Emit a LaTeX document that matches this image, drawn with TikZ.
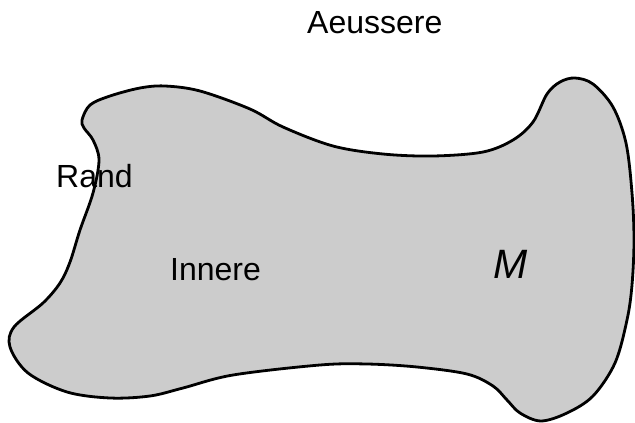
\documentclass[tikz,border=0pt]{standalone}
\usepackage{fontspec}
\setmainfont{Liberation Sans}
\begin{document}
\begin{tikzpicture}[x=1pt,y=-1pt,
  region/.style={draw=black,line width=2.8pt,fill=regiongray,line join=round},
  lbl/.style={inner sep=0pt,anchor=base west,font=\fontsize{32}{38}\selectfont}]
\definecolor{regiongray}{RGB}{204,204,204}
\useasboundingbox (0,0) rectangle (635,423);
% the set M as a closed smooth outline
\draw[region] plot[smooth cycle,tension=0.55] coordinates {
  (82,120) (90,105) (110,96) (140,88) (165,86) (200,91) (250,109) (283,127)
  (333,146) (383,154) (433,156) (483,152) (513,140) (533,122) (547,94)
  (560,82) (575,78) (593,84) (613,107) (626,143) (632,193) (634,240)
  (632,285) (627,320) (615,363) (593,396) (567,413) (541,421) (520,413)
  (507,400) (493,386) (467,374) (417,367) (367,364) (320,365) (233,375)
  (183,388) (150,396) (110,398) (67,392) (28,373) (10,347) (14,327)
  (43,303) (60,283) (70,262) (80,230) (93,193) (99,160) (93,140) (84,128)};
\node[lbl] (outer) at (307,33) {Aeussere};
\node[lbl] (bound) at (56,187) {Rand};
\node[lbl] (inner) at (170,280) {Innere};
\node[inner sep=0pt,anchor=base,font=\fontsize{41}{48}\selectfont] (setM) at (511,278) {\itshape M};
\end{tikzpicture}
\end{document}
